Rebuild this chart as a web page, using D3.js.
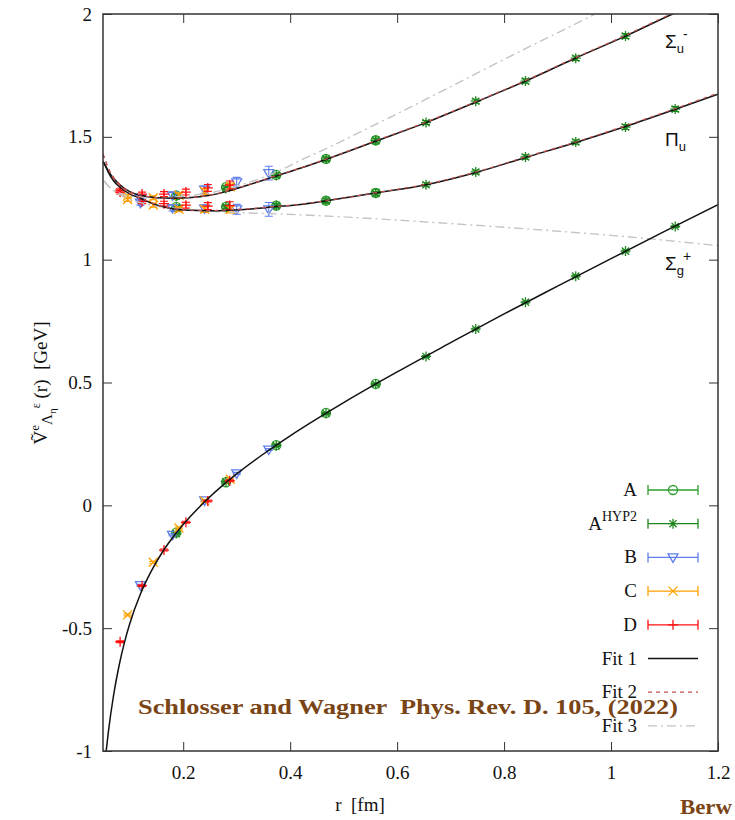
<!DOCTYPE html>
<html><head><meta charset="utf-8">
<script src="https://cdn.jsdelivr.net/npm/d3@7"></script>
<style>body{margin:0;background:#fff}text{white-space:pre}
.serif{font-family:"Liberation Serif","DejaVu Serif","Times New Roman",serif}
.sans{font-family:"Liberation Sans","DejaVu Sans",Arial,sans-serif}
</style>
</head><body><svg id="c" width="735" height="820"></svg>
<script>
// ---------- data (r in fm, V in GeV) ----------
const xTicks = [0.2,0.4,0.6,0.8,1.0,1.2];
const xTickLabels = ["0.2","0.4","0.6","0.8","1","1.2"];
const yTicks = [-1,-0.5,0,0.5,1,1.5,2];
const yTickLabels = ["-1","-0.5","0","0.5","1","1.5","2"];

const rA   = [0.187,0.280,0.374,0.467,0.560];
const A_sg = [-0.111,0.094,0.245,0.376,0.494];
const A_pu = [1.215,1.215,1.220,1.240,1.272];
const A_su = [1.262,1.295,1.345,1.410,1.486];
const A_err= [0.008,0.008,0.010,0.012,0.014];

const rAH   = [0.187,0.280,0.374,0.467,0.560,0.654,0.747,0.840,0.934,1.027,1.120];
const AH_sg = [-0.115,0.096,0.243,0.374,0.493,0.606,0.718,0.827,0.933,1.035,1.135];
const AH_pu = [1.210,1.215,1.220,1.240,1.270,1.305,1.357,1.418,1.479,1.540,1.613];
const AH_su = [1.258,1.290,1.343,1.410,1.485,1.558,1.645,1.727,1.820,1.910,null];
const AH_err= [0.006,0.006,0.006,0.007,0.007,0.008,0.008,0.009,0.009,0.010,0.010];

const rB   = [0.120,0.180,0.240,0.300,0.360];
const B_sg = [-0.325,-0.120,0.020,0.130,0.227];
const B_pu = [1.232,1.210,1.208,1.205,1.205];
const B_su = [1.250,1.262,1.285,1.315,1.352];
const B_err= [0.010,0.012,0.015,0.020,0.028];

const rC   = [0.096,0.144,0.192,0.240,0.288];
const C_sg = [-0.446,-0.232,-0.092,0.018,0.106];
const C_pu = [1.245,1.222,1.205,1.205,1.205];
const C_su = [1.258,1.252,1.262,1.277,1.297];
const C_err= [0.008,0.008,0.010,0.012,0.015];

const rD   = [0.082,0.123,0.164,0.205,0.246,0.287];
const D_sg = [-0.555,-0.327,-0.182,-0.069,0.018,0.100];
const D_pu = [1.275,1.236,1.228,1.222,1.218,1.220];
const D_su = [1.283,1.267,1.267,1.275,1.292,1.304];
const D_err= [0.008,0.008,0.010,0.012,0.014,0.016];

// fit curves
const fitR_g  = [0.056,0.06,0.07,0.08,0.09,0.10,0.12,0.14,0.16,0.18,0.20,0.25,0.30,0.35,0.40,0.50,0.60,0.70,0.80,0.90,1.00,1.10,1.20];
const fit1_sg = [-0.999,-0.923,-0.770,-0.653,-0.559,-0.482,-0.361,-0.269,-0.194,-0.132,-0.078,0.035,0.128,0.209,0.283,0.418,0.543,0.662,0.779,0.892,1.004,1.115,1.224];

const fitR_x  = [0.05,0.055,0.06,0.07,0.08,0.10,0.12,0.15,0.18,0.21,0.25,0.28,0.32,0.37,0.42,0.468,0.562,0.654,0.749,0.84,0.934,1.027,1.115,1.2];
const fit1_su = [1.40,1.38,1.36,1.33,1.308,1.277,1.262,1.252,1.250,1.252,1.262,1.277,1.303,1.338,1.373,1.409,1.484,1.558,1.643,1.727,1.821,1.910,2.0,2.08];
const fit1_pu = [1.40,1.38,1.355,1.32,1.298,1.268,1.250,1.223,1.207,1.201,1.199,1.200,1.205,1.215,1.225,1.240,1.272,1.305,1.356,1.416,1.477,1.542,1.608,1.674];
const fit2_su = [1.43,1.40,1.372,1.335,1.31,1.278,1.263,1.253,1.251,1.253,1.263,1.278,1.304,1.339,1.374,1.410,1.486,1.560,1.645,1.729,1.823,1.913,2.003,2.084];
const fit2_pu = [1.43,1.40,1.37,1.33,1.305,1.27,1.251,1.224,1.208,1.202,1.200,1.202,1.207,1.216,1.226,1.241,1.273,1.307,1.358,1.418,1.479,1.545,1.611,1.678];

const fitR_3u = [0.052,0.06,0.072,0.09,0.12,0.15,0.20,0.25,0.30,0.35,0.38,0.42,0.47,0.562,0.654,0.75,0.85,0.97,1.0];
const fit3_su = [1.32,1.30,1.28,1.265,1.255,1.252,1.258,1.272,1.30,1.335,1.362,1.405,1.455,1.553,1.653,1.76,1.87,2.0,2.035];
const fitR_3l = [0.052,0.06,0.072,0.09,0.12,0.15,0.20,0.30,0.38,0.50,0.60,0.70,0.80,0.90,1.00,1.10,1.20];
const fit3_pu = [1.32,1.30,1.278,1.255,1.232,1.218,1.205,1.192,1.186,1.174,1.161,1.147,1.132,1.116,1.099,1.079,1.057];

const seriesNames = ["A","AHYP2","B","C","D"];
const seriesColors = ["#2e9e2e","#1f861f","#5f7fea","#ffa000","#ff1010"];
const seriesSymbols = ["circle","star","tri","cross","plus"];

// ---------- drawing ----------
const svg = d3.select("#c");
const x = d3.scaleLinear().domain([0.05,1.2]).range([103,718]);
const y = d3.scaleLinear().domain([-1,2]).range([751,14]);

svg.append("defs").append("clipPath").attr("id","clip")
  .append("rect").attr("x",x(0.05)).attr("y",y(2)).attr("width",x(1.2)-x(0.05)).attr("height",y(-1)-y(2));

function styleAxis(g){
  g.attr("font-family",null).attr("font-size",null);
  g.select(".domain").remove();
  g.selectAll(".tick line").attr("stroke","#333").attr("stroke-width",1);
  g.selectAll(".tick text").attr("class","serif").style("font-size","19px").attr("fill","#111");
}
svg.append("g").attr("transform",`translate(0,${y(-1)})`)
  .call(d3.axisBottom(x).tickValues(xTicks).tickFormat((d,i)=>xTickLabels[i]).tickSize(-9).tickPadding(15)).call(styleAxis);
svg.append("g").attr("transform",`translate(0,${y(2)})`)
  .call(d3.axisTop(x).tickValues(xTicks).tickFormat("").tickSize(-9)).call(styleAxis);
svg.append("g").attr("transform",`translate(${x(0.05)},0)`)
  .call(d3.axisLeft(y).tickValues(yTicks).tickFormat((d,i)=>yTickLabels[i]).tickSize(-9).tickPadding(11)).call(styleAxis);
svg.append("g").attr("transform",`translate(${x(1.2)},0)`)
  .call(d3.axisRight(y).tickValues(yTicks).tickFormat("").tickSize(-9)).call(styleAxis);

const plot = svg.append("g").attr("clip-path","url(#clip)");

function symbol(g, type, cx, cy, color){
  const s = g.append("g").attr("stroke",color).attr("stroke-width",1.3).attr("fill","none");
  if(type==="circle") s.append("circle").attr("cx",cx).attr("cy",cy).attr("r",4.5);
  else if(type==="star"){
    const p = d3.path();
    p.moveTo(cx-5,cy); p.lineTo(cx+5,cy); p.moveTo(cx,cy-5); p.lineTo(cx,cy+5);
    p.moveTo(cx-3.6,cy-3.6); p.lineTo(cx+3.6,cy+3.6); p.moveTo(cx-3.6,cy+3.6); p.lineTo(cx+3.6,cy-3.6);
    s.append("path").attr("d",p.toString());
  } else if(type==="tri"){
    s.append("path").attr("d",`M${cx-5},${cy-3.5}L${cx+5},${cy-3.5}L${cx},${cy+5}Z`);
  } else if(type==="cross"){
    s.append("path").attr("d",`M${cx-4.5},${cy-4.5}L${cx+4.5},${cy+4.5}M${cx-4.5},${cy+4.5}L${cx+4.5},${cy-4.5}`);
  } else if(type==="plus"){
    s.append("path").attr("d",`M${cx-5},${cy}L${cx+5},${cy}M${cx},${cy-5}L${cx},${cy+5}`);
  }
}
function errbar(g, cx, v, e, color){
  const y1 = y(v-e), y2 = y(v+e);
  g.append("path").attr("stroke",color).attr("stroke-width",1.1).attr("fill","none")
   .attr("d",`M${cx},${y1}L${cx},${y2}M${cx-4},${y1}L${cx+4},${y1}M${cx-4},${y2}L${cx+4},${y2}`);
}

const dsR = [rA,rAH,rB,rC,rD];
const dsV = [[A_sg,A_pu,A_su],[AH_sg,AH_pu,AH_su],[B_sg,B_pu,B_su],[C_sg,C_pu,C_su],[D_sg,D_pu,D_su]];
const dsE = [A_err,AH_err,B_err,C_err,D_err];

dsR.forEach((rs,k)=>{
  const col = seriesColors[k];
  dsV[k].forEach((vals,state)=>{
    rs.forEach((r,i)=>{
      const v = vals[i];
      if(v==null) return;
      const e = state===0 ? 0.004 : dsE[k][i];
      errbar(plot, x(r), v, e, col);
      symbol(plot, seriesSymbols[k], x(r), y(v), col);
    });
  });
});

const line = d3.line().x(d=>x(d[0])).y(d=>y(d[1])).curve(d3.curveMonotoneX);
function curve(rs, vs, color, width, dash){
  plot.append("path").datum(rs.map((r,i)=>[r,vs[i]]))
    .attr("d",line).attr("fill","none").attr("stroke",color).attr("stroke-width",width)
    .attr("stroke-dasharray",dash||null);
}
const fit3Color="#c4c4c4", fit2Color="#c05050";
curve(fitR_3u, fit3_su, fit3Color, 1.4, "9,4,2,4");
curve(fitR_3l, fit3_pu, fit3Color, 1.4, "9,4,2,4");
curve(fitR_g, fit1_sg, "#111", 1.5);
curve(fitR_x, fit1_su, "#111", 1.5);
curve(fitR_x, fit1_pu, "#111", 1.5);
curve(fitR_x, fit2_su, fit2Color, 1.2, "4,4");
curve(fitR_x, fit2_pu, fit2Color, 1.2, "4,4");

// frame
svg.append("rect").attr("x",x(0.05)).attr("y",y(2)).attr("width",x(1.2)-x(0.05)).attr("height",y(-1)-y(2))
  .attr("fill","none").attr("stroke","#333").attr("stroke-width",1.5);

// state labels
function stateLabel(px, py, main, sub, sup){
  const t = svg.append("text").attr("class","sans").attr("x",px).attr("y",py).style("font-size","19px").attr("fill","#111");
  t.append("tspan").text(main);
  t.append("tspan").style("font-size","13px").attr("dy",5).text(sub);
  if(sup) t.append("tspan").style("font-size","14px").attr("dy",-14).attr("dx",-1).text(sup);
}
stateLabel(665,48,"Σ","u","-");
stateLabel(665,146,"Π","u",null);
stateLabel(665,270,"Σ","g","+");

// legend
const legY0 = 490, legStep = 33.7;
const legText = svg.append("g").attr("fill","#111").attr("text-anchor","end");
seriesNames.forEach((nm,k)=>{
  const ly = legY0 + k*legStep;
  const col = seriesColors[k];
  const t = legText.append("text").attr("class","serif").style("font-size","19px").attr("x",637).attr("y",ly+6);
  if(nm==="AHYP2"){ t.append("tspan").text("A"); t.append("tspan").style("font-size","14px").attr("dy",-9).text("HYP2"); }
  else t.text(nm);
  svg.append("path").attr("stroke",col).attr("stroke-width",1.3).attr("fill","none")
    .attr("d",`M648,${ly}L698,${ly}M648,${ly-5}L648,${ly+5}M698,${ly-5}L698,${ly+5}`);
  symbol(svg, seriesSymbols[k], 673, ly, col);
});
const fitNames = ["Fit 1","Fit 2","Fit 3"];
const fitColors = ["#111",fit2Color,fit3Color];
const fitDash = [null,"4,4","9,4,2,4"];
fitNames.forEach((nm,k)=>{
  const ly = legY0 + (5+k)*legStep;
  legText.append("text").attr("class","serif").style("font-size","19px").attr("x",637).attr("y",ly+6).text(nm);
  svg.append("path").attr("d",`M648,${ly}L698,${ly}`).attr("stroke",fitColors[k])
    .attr("stroke-width",k===0?1.5:1.3).attr("stroke-dasharray",fitDash[k]);
});

// axis labels
svg.append("text").attr("class","serif").attr("x",360).attr("y",811).attr("text-anchor","middle")
  .style("font-size","19px").attr("fill","#111").text("r  [fm]");
const yl = svg.append("text").attr("class","serif").attr("transform","translate(47,383) rotate(-90)").attr("text-anchor","middle")
  .style("font-size","19px").attr("fill","#111");
yl.append("tspan").text("Ṽ");
yl.append("tspan").style("font-size","13px").attr("dy",-8).text("e");
yl.append("tspan").style("font-size","15px").attr("dy",13).text("Λ");
yl.append("tspan").style("font-size","11px").attr("dy",4).text("η");
yl.append("tspan").style("font-size","12px").attr("dy",-16).text("ε");
yl.append("tspan").attr("dy",7).text(" (r)  [GeV]");

// watermark texts
const brown = "#7a4516";
svg.append("text").attr("class","serif").attr("x",138).attr("y",714).attr("font-weight","bold")
  .style("font-size","22px").attr("fill",brown).attr("textLength",540).attr("lengthAdjust","spacingAndGlyphs")
  .text("Schlosser and Wagner  Phys. Rev. D. 105, (2022)");
svg.append("text").attr("class","serif").attr("x",680).attr("y",814).attr("font-weight","bold")
  .style("font-size","21px").attr("fill",brown).attr("textLength",52).attr("lengthAdjust","spacingAndGlyphs").text("Berw");
</script></body></html>
